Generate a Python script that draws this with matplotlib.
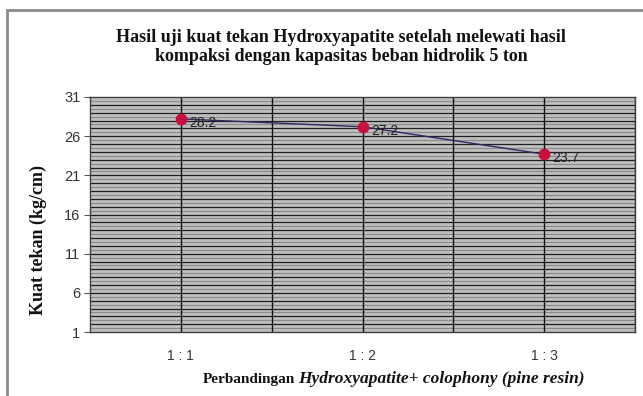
import numpy as np
import matplotlib
matplotlib.use("Agg")
import matplotlib.pyplot as plt
from matplotlib.patches import Rectangle

# Data
categories = ["1 : 1", "1 : 2", "1 : 3"]
kuat_tekan = [28.2, 27.2, 23.7]
value_labels = ["28.2", "27.2", "23.7"]
y_ticks = [1, 6, 11, 16, 21, 26, 31]

W, H = 643, 396
fig = plt.figure(figsize=(W / 100, H / 100), dpi=100)
fig.patch.set_facecolor("white")

# Chart frame
fig.add_artist(Rectangle((7 / W, -0.05), 1.1, 1 - 10 / H + 0.05,
                         transform=fig.transFigure, fill=False,
                         edgecolor="#8a8a8a", linewidth=2.0))

ax = fig.add_axes([90 / W, 1 - 332 / H, (635 - 90) / W, (332 - 97) / H])
ax.set_facecolor("#c0c0c0")
x = np.arange(len(categories))
ax.set_xlim(-0.5, len(categories) - 0.5)
ax.set_ylim(1, 31)

# Horizontal grid: dark lines every unit, lighter lines at half units
for yv in np.arange(1.5, 31, 1.0):
    ax.axhline(yv, color="#8c8c8c", linewidth=0.9, zorder=1)
for yv in np.arange(2, 31, 1.0):
    ax.axhline(yv, color="#202020", linewidth=0.9, zorder=1)
# Vertical grid at categories and between them
for xv in np.arange(0, len(categories) - 0.5 + 0.01, 0.5):
    ax.axvline(xv, color="#101010", linewidth=1.0, zorder=1)

ax.plot(x, kuat_tekan, color="#2a2a66", linewidth=1.0, zorder=3)
ax.plot(x, kuat_tekan, linestyle="none", marker="o", markersize=7.5,
        markerfacecolor="#c8103c", markeredgecolor="#c8103c", zorder=4)
for xi, yi, lab in zip(x, kuat_tekan, value_labels):
    ax.annotate(lab, (xi, yi), xytext=(6, -3), textcoords="offset points",
                ha="left", va="center", fontsize=10, color="#222222",
                family="Liberation Sans", zorder=5)

ax.set_yticks(y_ticks)
ax.set_xticks(x)
ax.set_xticklabels(categories)
ax.tick_params(axis="y", length=4, width=0.8, color="#555555",
               labelsize=10.5, labelcolor="#333333", pad=3)
ax.tick_params(axis="x", length=0, labelsize=10, labelcolor="#333333", pad=12)
for lab in ax.get_xticklabels() + ax.get_yticklabels():
    lab.set_family("Liberation Sans")
for sp in ax.spines.values():
    sp.set_color("#404040")
    sp.set_linewidth(1.0)

fig.text(341 / W, 1 - 47 / H,
         "Hasil uji kuat tekan Hydroxyapatite setelah melewati hasil\n"
         "kompaksi dengan kapasitas beban hidrolik 5 ton",
         ha="center", va="center", fontsize=13, fontweight="bold",
         family="Liberation Serif", linespacing=1.2, color="#111111")

fig.text(38 / W, 1 - 240 / H, "Kuat tekan (kg/cm)", rotation=90,
         ha="center", va="center", fontsize=13, fontweight="bold",
         family="Liberation Serif", color="#111111")

fig.text(295 / W, 1 - 379 / H, "Perbandingan", ha="right", va="center",
         fontsize=11, fontweight="bold", family="Liberation Serif",
         color="#111111")
fig.text(298 / W, 1 - 379 / H, "Hydroxyapatite+ colophony (pine resin)",
         ha="left", va="center", fontsize=12.5, fontweight="bold",
         style="italic", family="Liberation Serif", color="#111111")

fig.savefig("out.png", dpi=100, facecolor="white")
